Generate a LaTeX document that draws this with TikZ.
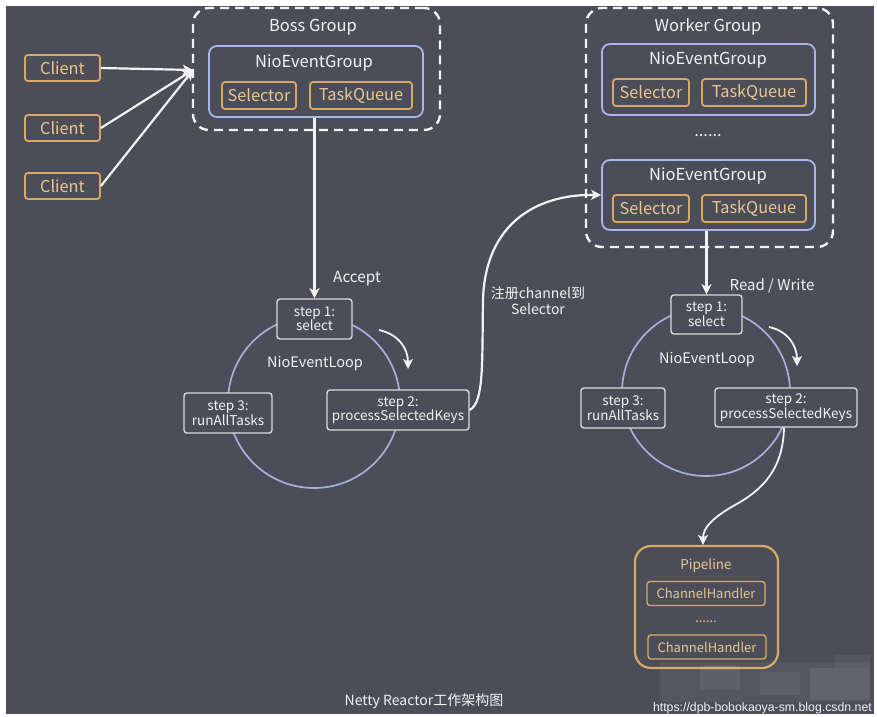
\documentclass[tikz,border=0pt]{standalone}
\usepackage{fontspec}
\setmainfont{Noto Sans CJK SC}
\newfontfamily\wmfont{Liberation Sans}
\usetikzlibrary{arrows.meta,calc}
\definecolor{bg}{HTML}{4B4E58}
\definecolor{orng}{HTML}{D9A864}
\definecolor{orngtxt}{HTML}{EBC690}
\definecolor{blu}{HTML}{A9B6EC}
\definecolor{lgray}{HTML}{DADADA}
\definecolor{wtxt}{HTML}{F2F2F2}
\definecolor{loopc}{HTML}{A8AFDA}
\begin{document}
\begin{tikzpicture}[x=1pt,y=-1pt,
  txt/.style={text=wtxt,font=\fontsize{16.5}{18}\selectfont,inner sep=0pt},
  smalltxt/.style={text=wtxt,font=\fontsize{14}{16}\selectfont,inner sep=0pt,align=center},
  obox/.style={draw=orng,line width=1.8pt,rounded corners=3pt,fill=bg,text=orngtxt,
    font=\fontsize{16.3}{18}\selectfont,inner sep=0pt},
  hbox/.style={draw=orng,line width=1.4pt,rounded corners=3pt,fill=bg,text=orngtxt,
    font=\fontsize{13}{14}\selectfont,inner sep=0pt,minimum width=118pt,minimum height=24pt},
  bluebox/.style={draw=blu,line width=1.8pt,rounded corners=8pt,inner sep=0pt},
  dashbox/.style={draw=wtxt,line width=2.4pt,dash pattern=on 9pt off 6pt,rounded corners=16pt,inner sep=0pt},
  stepbox/.style={draw=lgray,line width=1.4pt,rounded corners=3pt,fill=bg,text=wtxt,
    font=\fontsize{13.5}{14.5}\selectfont,inner sep=0pt,align=center,minimum height=40pt},
  loopc/.style={draw=loopc,line width=1.7pt,circle,inner sep=0pt},
  arr/.style={draw=wtxt,line width=2.2pt,-{Stealth[length=10pt,width=10pt,inset=2.5pt]}},
]
\useasboundingbox (0,0) rectangle (877,716);
\fill[white] (0,0) rectangle (877,716);
\fill[bg] (6,6) rectangle (874,714);

% ---------- Boss group ----------
\node[dashbox,minimum width=247pt,minimum height=122pt] (boss) at (316.5,69) {};
\node[txt] (bosslbl) at (313,27) {Boss Group};
\node[bluebox,minimum width=214pt,minimum height=71pt] (bneg) at (316,81.5) {};
\node[txt] (bneglbl) at (314,63) {NioEventGroup};
\node[obox,minimum width=74pt,minimum height=27pt] (bsel) at (259,95.5) {Selector};
\node[obox,minimum width=102pt,minimum height=27pt] (btq) at (361,95.5) {TaskQueue};

% ---------- Clients ----------
\node[obox,minimum width=75pt,minimum height=26pt] (c1) at (62.5,68) {Client};
\node[obox,minimum width=75pt,minimum height=26pt] (c2) at (62.5,128) {Client};
\node[obox,minimum width=75pt,minimum height=26pt] (c3) at (62.5,186) {Client};
\coordinate (bossin) at (193,70);
\draw[arr] (c1.east) -- (bossin);
\draw[arr] (c2.east) -- (bossin);
\draw[arr] (c3.east) -- (bossin);

% ---------- Left loop ----------
\node[loopc,minimum size=172pt] (lloop) at (314,402) {};
\node[stepbox,minimum width=75pt] (ls1) at (314.5,319) {step 1:\\select};
\node[stepbox,minimum width=88pt] (ls3) at (228,413) {step 3:\\runAllTasks};
\node[stepbox,minimum width=142pt] (ls2) at (398,410) {step 2:\\processSelectedKeys};
\node[txt,font=\fontsize{14.5}{16}\selectfont] (lloopl) at (315,364) {NioEventLoop};
\draw[arr] (ls1.north |- bneg.south) -- (ls1.north);
\node[txt,font=\fontsize{15.3}{17}\selectfont] (acc) at (357,279) {Accept};
\coordinate (la1) at (379,330);
\coordinate (la2) at (408,369);
\draw[arr,line width=1.8pt] (la1) .. controls (398,334) and (408,348) .. (la2);

% ---------- Worker group ----------
\node[dashbox,minimum width=247pt,minimum height=239pt] (worker) at (709.5,127.5) {};
\node[txt] (wlbl) at (708,27) {Worker Group};
\node[bluebox,minimum width=213pt,minimum height=71pt] (wneg1) at (708.5,79.5) {};
\node[txt] (wneg1l) at (708,60) {NioEventGroup};
\node[obox,minimum width=76pt,minimum height=27pt] (wsel1) at (651,92.5) {Selector};
\node[obox,minimum width=104pt,minimum height=27pt] (wtq1) at (754,92.5) {TaskQueue};
\node[txt] (wdots) at (708,136) {......};
\node[bluebox,minimum width=213pt,minimum height=70pt] (wneg2) at (708.5,195) {};
\node[txt] (wneg2l) at (708,176) {NioEventGroup};
\node[obox,minimum width=76pt,minimum height=27pt] (wsel2) at (651,208.5) {Selector};
\node[obox,minimum width=104pt,minimum height=27pt] (wtq2) at (754,208.5) {TaskQueue};

% ---------- register arrow ----------
\draw[arr] (ls2.east) .. controls (484,402) and (482,365) .. (483,300)
  .. controls (485,225) and (535,194) .. (wneg2.west);
\node[smalltxt] (reglbl) at (538,301) {注册channel到\\Selector};

% ---------- Right loop ----------
\node[loopc,minimum size=168pt] (rloop) at (706,392) {};
\node[stepbox,minimum width=71pt,minimum height=39pt] (rs1) at (706.5,314.5) {step 1:\\select};
\node[stepbox,minimum width=84pt] (rs3) at (623,408) {step 3:\\runAllTasks};
\node[stepbox,minimum width=142pt,minimum height=39pt] (rs2) at (786,407.5) {step 2:\\processSelectedKeys};
\node[txt,font=\fontsize{14.5}{16}\selectfont] (rloopl) at (707,360) {NioEventLoop};
\draw[arr] (rs1.north |- wneg2.south) -- (rs1.north);
\node[txt,font=\fontsize{15}{17}\selectfont] (rw) at (772,286) {Read / Write};
\coordinate (ra1) at (769,327);
\coordinate (ra2) at (797,366);
\draw[arr,line width=1.8pt] (ra1) .. controls (788,331) and (797,346) .. (ra2);

% ---------- Pipeline ----------
\node[draw=orng,line width=2.2pt,rounded corners=16pt,inner sep=0pt,minimum width=143pt,minimum height=122pt] (pipe) at (706.5,607) {};
\node[txt,text=orngtxt,font=\fontsize{13.5}{15}\selectfont] (pipel) at (706,566) {Pipeline};
\node[hbox] (ch1) at (706,593.5) {ChannelHandler};
\node[txt,text=orngtxt,font=\fontsize{13}{15}\selectfont] (pdots) at (706,622) {......};
\node[hbox] (ch2) at (707,647) {ChannelHandler};
\draw[arr,line width=1.8pt] (rs2.south -| 784,0) .. controls (783,470) and (762,490) .. (735,505)
  .. controls (712,518) and (703,528) .. (pipe.north -| 703,0);

% ---------- mosaic and captions ----------
\fill[white,opacity=0.05] (660,662) rectangle (870,702);
\fill[white,opacity=0.06] (700,665) rectangle (740,690);
\fill[white,opacity=0.05] (760,672) rectangle (800,695);
\fill[white,opacity=0.08] (810,668) rectangle (870,700);
\fill[white,opacity=0.05] (835,655) rectangle (870,668);
\node[txt,font=\fontsize{14}{16}\selectfont] (title) at (424,701) {Netty Reactor工作架构图};
\node[text=wtxt,font=\wmfont\fontsize{12.3}{14}\selectfont,inner sep=0pt,anchor=base east] (wm) at (872,711) {https://dpb-bobokaoya-sm.blog.csdn.net};
\end{tikzpicture}
\end{document}
